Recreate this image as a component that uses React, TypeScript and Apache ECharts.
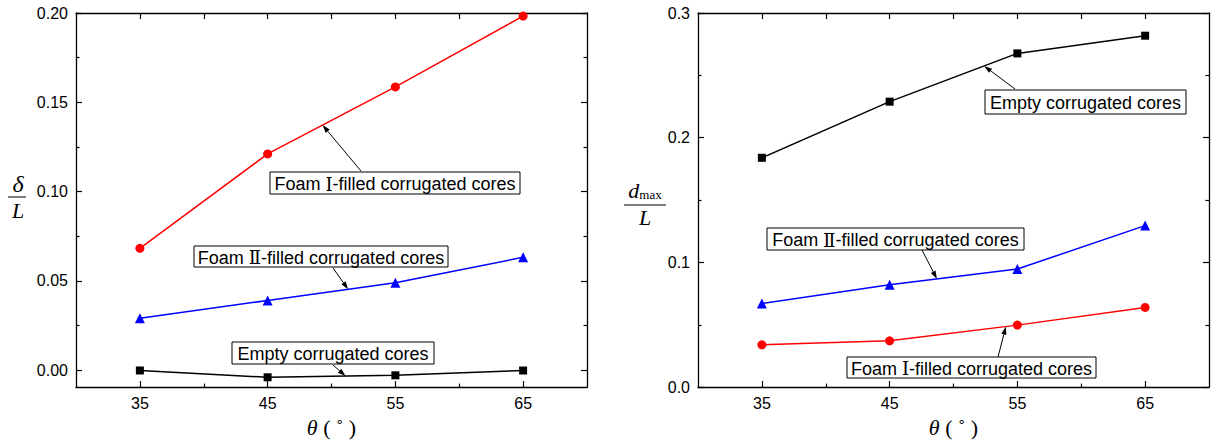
import React, { useEffect, useRef } from "react";
import * as echarts from "echarts";

// ---- data ----
const angles = [35, 45, 55, 65];
const leftFoamI = [0.0682, 0.1211, 0.1586, 0.1983];
const leftFoamII = [0.0291, 0.039, 0.0489, 0.0632];
const leftEmpty = [-0.0002, -0.004, -0.0029, -0.0002];
const rightEmpty = [0.1839, 0.2289, 0.2676, 0.2818];
const rightFoamII = [0.0671, 0.0821, 0.0947, 0.1295];
const rightFoamI = [0.0339, 0.0371, 0.0497, 0.0639];

const xMajorTicks = [35, 45, 55, 65];
const xMinorTicks = [40, 50, 60];
const xTopTicks = [35, 40, 45, 50, 55, 60, 65];
const leftYMajor = [0, 0.05, 0.1, 0.15, 0.2];
const leftYMinor = [0.025, 0.075, 0.125, 0.175];
const rightYMajor = [0, 0.1, 0.2, 0.3];
const rightYMinor = [0.05, 0.15, 0.25];

const numeralI = "\u2160";
const numeralII = "\u2161";
const labelEmpty = "Empty corrugated cores";

const FONT = "Arial, 'Liberation Sans', sans-serif";
const SERIF = "'Times New Roman', 'Liberation Serif', serif";
const NUMERAL_FONT = "'DejaVu Serif', 'Liberation Serif', serif";

// annotation boxes (pixel layout); arrow tip sits on a series at data x = tipX
const annotations = [
  { numeral: numeralI, box: [270, 172, 250, 22], from: [361, 171], grid: 0, ys: leftFoamI, tipX: 49.3 },
  { numeral: numeralII, box: [194, 246, 254, 21], from: [333, 268], grid: 0, ys: leftFoamII, tipX: 51.3 },
  { numeral: "", box: [232, 342, 202, 22], from: [333, 365], grid: 0, ys: leftEmpty, tipX: 51.1 },
  { numeral: "", box: [985, 90, 201, 24], from: [1015, 89], grid: 1, ys: rightEmpty, tipX: 52.4 },
  { numeral: numeralII, box: [767, 228, 257, 22], from: [922, 250], grid: 1, ys: rightFoamII, tipX: 48.7 },
  { numeral: numeralI, box: [847, 357, 249, 21], from: [998, 357], grid: 1, ys: rightFoamI, tipX: 54.1 },
];

function pairs(xs: number[], ys: number[]) {
  return xs.map((x, i) => [x, ys[i]]);
}

function xAxes(grid: number) {
  const base = {
    gridIndex: grid,
    type: "value",
    min: 30,
    max: 70,
    splitLine: { show: false },
  };
  return [
    {
      ...base,
      position: "bottom",
      axisLine: { show: true, onZero: false, lineStyle: { color: "#000", width: 1.3 } },
      axisTick: { inside: true, length: 6, customValues: xMajorTicks, lineStyle: { color: "#000", width: 1.2 } },
      axisLabel: { customValues: xMajorTicks, color: "#000", fontSize: 16, fontFamily: FONT, margin: 8 },
      name: "{i|\u03B8}{n| ( \u02DA )}",
      nameLocation: "middle",
      nameGap: 23,
      nameTextStyle: {
        rich: {
          i: { fontFamily: SERIF, fontStyle: "italic", fontSize: 22, color: "#000" },
          n: { fontFamily: SERIF, fontSize: 22, color: "#000" },
        },
      },
    },
    {
      ...base,
      position: "bottom",
      axisLine: { show: false, onZero: false },
      axisTick: { inside: true, length: 3.5, customValues: xMinorTicks, lineStyle: { color: "#000", width: 1.2 } },
      axisLabel: { show: false },
    },
    {
      ...base,
      position: "top",
      axisLine: { show: true, onZero: false, lineStyle: { color: "#000", width: 1.3 } },
      axisTick: { inside: true, length: 6, customValues: xTopTicks, lineStyle: { color: "#000", width: 1.2 } },
      axisLabel: { show: false },
    },
  ];
}

function yAxes(grid: number, min: number, max: number, major: number[], minor: number[], digits: number) {
  const base = {
    gridIndex: grid,
    type: "value",
    min,
    max,
    splitLine: { show: false },
  };
  const mk = (pos: string, ticks: number[], len: number, line: boolean, labels: boolean) => ({
    ...base,
    position: pos,
    axisLine: { show: line, onZero: false, lineStyle: { color: "#000", width: 1.3 } },
    axisTick: { inside: true, length: len, customValues: ticks, lineStyle: { color: "#000", width: 1.2 } },
    axisLabel: labels
      ? {
          customValues: major,
          color: "#000",
          fontSize: 16,
          fontFamily: FONT,
          margin: 8,
          formatter: (v: number) => v.toFixed(digits),
        }
      : { show: false },
  });
  return [
    mk("left", major, 6, true, true),
    mk("left", minor, 3.5, false, false),
    mk("right", major, 6, true, false),
    mk("right", minor, 3.5, false, false),
  ];
}

function series(grid: number, name: string, ys: number[], color: string, symbol: string, size: number) {
  return {
    name,
    type: "line",
    xAxisIndex: grid * 3,
    yAxisIndex: grid * 4,
    data: pairs(angles, ys),
    symbol,
    symbolSize: size,
    lineStyle: { color, width: 1.5 },
    itemStyle: { color },
    z: 5,
  };
}

function arrowHead(from: number[], to: number[]) {
  const dx = to[0] - from[0];
  const dy = to[1] - from[1];
  const len = Math.sqrt(dx * dx + dy * dy);
  const ux = dx / len;
  const uy = dy / len;
  const hl = 8;
  const hw = 2.6;
  const bx = to[0] - ux * hl;
  const by = to[1] - uy * hl;
  return [
    [to[0], to[1]],
    [bx - uy * hw, by + ux * hw],
    [bx + uy * hw, by - ux * hw],
  ];
}

function seriesValueAt(ys: number[], x: number) {
  for (let i = 0; i < angles.length - 1; i++) {
    if (x >= angles[i] && x <= angles[i + 1]) {
      const t = (x - angles[i]) / (angles[i + 1] - angles[i]);
      return ys[i] + t * (ys[i + 1] - ys[i]);
    }
  }
  return ys[ys.length - 1];
}

function annotationGraphics(chart: any) {
  const out: any[] = [];
  annotations.forEach((a) => {
    const [x, y, w, h] = a.box;
    out.push({
      type: "rect",
      shape: { x, y, width: w, height: h },
      style: { fill: "#fff", stroke: "#000", lineWidth: 1 },
      z: 10,
    });
    const text = a.numeral
      ? `{t|Foam }{r|${a.numeral}}{t|-filled corrugated cores}`
      : `{t|${labelEmpty}}`;
    out.push({
      type: "text",
      x: x + w / 2,
      y: y + h / 2 + 1,
      style: {
        text,
        align: "center",
        verticalAlign: "middle",
        rich: {
          t: { fontFamily: FONT, fontSize: 18, fill: "#000", color: "#000" },
          r: { fontFamily: NUMERAL_FONT, fontSize: 18, fill: "#000", color: "#000" },
        },
      },
      z: 11,
    });
    const tip = chart.convertToPixel({ gridIndex: a.grid }, [a.tipX, seriesValueAt(a.ys, a.tipX)]);
    const head = arrowHead(a.from, tip);
    out.push({
      type: "line",
      shape: { x1: a.from[0], y1: a.from[1], x2: (head[1][0] + head[2][0]) / 2, y2: (head[1][1] + head[2][1]) / 2 },
      style: { stroke: "#000", lineWidth: 1 },
      z: 10,
    });
    out.push({
      type: "polygon",
      shape: { points: head },
      style: { fill: "#000" },
      z: 10,
    });
  });
  return out;
}

function fractionLabels() {
  return [
    {
      type: "text",
      x: 18,
      y: 184,
      style: { text: "\u03B4", fill: "#000", font: `italic 24px ${SERIF}`, align: "center", verticalAlign: "middle" },
    },
    { type: "line", shape: { x1: 8, y1: 197, x2: 26, y2: 197 }, style: { stroke: "#000", lineWidth: 1 } },
    {
      type: "text",
      x: 18,
      y: 210,
      style: { text: "L", fill: "#000", font: `italic 22px ${SERIF}`, align: "center", verticalAlign: "middle" },
    },
    {
      type: "text",
      x: 645,
      y: 190,
      style: {
        text: "{d|d}{m|max}",
        align: "center",
        verticalAlign: "middle",
        rich: {
          d: { fontFamily: SERIF, fontStyle: "italic", fontSize: 22, fill: "#000", color: "#000" },
          m: { fontFamily: SERIF, fontSize: 13, fill: "#000", color: "#000", padding: [8, 0, 0, 0] },
        },
      },
    },
    { type: "line", shape: { x1: 624, y1: 205, x2: 666, y2: 205 }, style: { stroke: "#000", lineWidth: 1 } },
    {
      type: "text",
      x: 645,
      y: 217,
      style: { text: "L", fill: "#000", font: `italic 22px ${SERIF}`, align: "center", verticalAlign: "middle" },
    },
  ];
}

export default function App() {
  const ref = useRef<HTMLDivElement>(null);
  useEffect(() => {
    if (!ref.current) return;
    const chart = echarts.init(ref.current, undefined, { renderer: "svg" });
    chart.setOption({
      animation: false,
      backgroundColor: "#fff",
      grid: [
        { left: 76, top: 13, width: 511, height: 380 },
        { left: 698, top: 13, width: 511, height: 380 },
      ],
      xAxis: [...xAxes(0), ...xAxes(1)],
      yAxis: [
        ...yAxes(0, -0.0095, 0.2, leftYMajor, leftYMinor, 2),
        ...yAxes(1, 0, 0.3, rightYMajor, rightYMinor, 1),
      ],
      series: [
        series(0, "Foam I L", leftFoamI, "#ff0000", "circle", 9),
        series(0, "Foam II L", leftFoamII, "#0000ff", "triangle", 10),
        series(0, "Empty L", leftEmpty, "#000000", "rect", 8),
        series(1, "Empty R", rightEmpty, "#000000", "rect", 8),
        series(1, "Foam II R", rightFoamII, "#0000ff", "triangle", 10),
        series(1, "Foam I R", rightFoamI, "#ff0000", "circle", 9),
      ],
    });
    chart.setOption({ graphic: [...annotationGraphics(chart), ...fractionLabels()] });
    return () => chart.dispose();
  }, []);
  return (
    <div
      ref={ref}
      style={{ position: "absolute", left: 0, top: 0, width: 1221, height: 443, background: "#fff" }}
    />
  );
}
